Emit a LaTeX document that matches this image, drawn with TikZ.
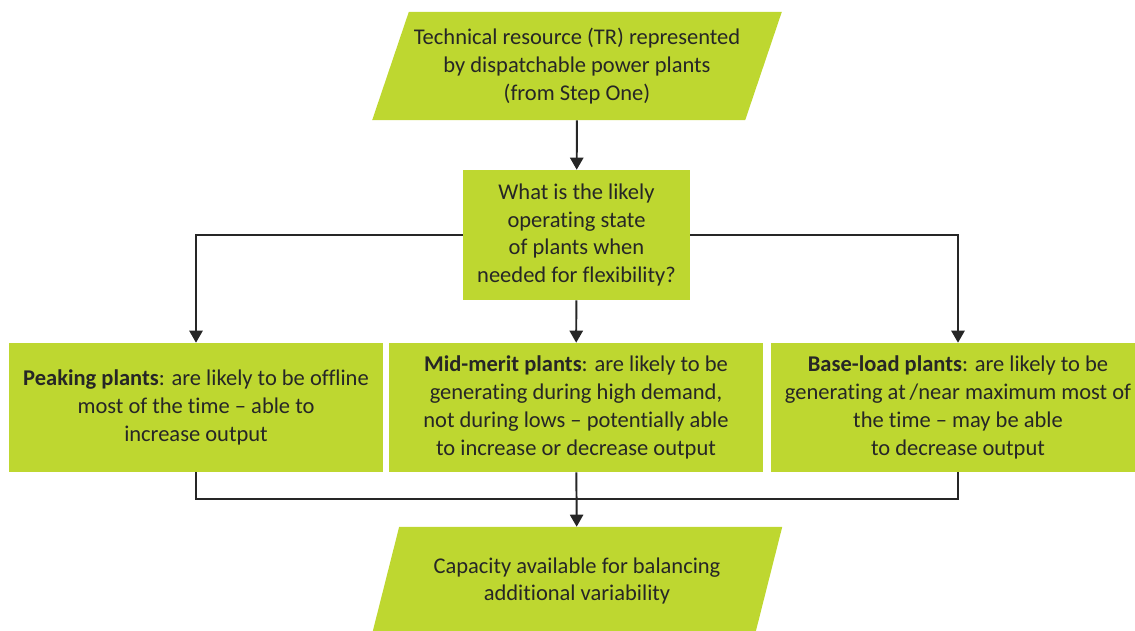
\documentclass[tikz,border=0pt]{standalone}
\usepackage{fontspec}
\setmainfont[Ligatures = NoCommon]{Carlito}
\usetikzlibrary{shapes.geometric, arrows.meta}

\definecolor{leaf}{RGB}{190,215,48}
\definecolor{ink}{RGB}{38,38,38}

\tikzset{
  io/.style = {trapezium, trapezium left angle = 65, trapezium right angle = 115,
    trapezium stretches = true, fill = leaf, inner sep = 0pt,
    minimum width = 10.275cm, minimum height = 2.7cm, align = center},
  ask/.style = {rectangle, fill = leaf, inner sep = 0pt,
    minimum width = 5.675cm, minimum height = 3.25cm, align = center},
  plant/.style = {rectangle, fill = leaf, inner sep = 0pt,
    minimum width = 9.35cm, minimum height = 3.225cm, align = center},
  link/.style = {draw = ink, line width = 1.4pt},
  arr/.style = {link, -{Triangle[width = 0.33cm, length = 0.3cm]}}
}

\begin{document}
\begin{tikzpicture}[x = 0.025cm, y = -0.025cm,
    font = \fontsize{16}{19.9}\selectfont, text = ink]
    \useasboundingbox (0,0) rectangle (1135,630);

    % input
    \node [io] (tr) at (577,66)
      {Technical resource (TR) represented\\ by dispatchable power plants\\ (from Step One)};

    % question
    \node [ask] (state) at (576.5,235)
      {What is the likely\\ operating state\\ of plants when\\ needed for flexibility?};

    % plant types
    \node [plant] (peak) at (196,407.5)
      {\textbf{Peaking plants}: are likely to be offline\\ most of the time -- able to\\ increase output};
    \node [plant] (mid) at (576,407.5)
      {\textbf{Mid-merit plants}: are likely to be\\ generating during high demand,\\ not during lows -- potentially able\\ to increase or decrease output};
    \node [plant] (base) at (958,407.5)
      {\textbf{Base-load plants}: are likely to be\\ generating at\,/near maximum most of\\ the time -- may be able\\ to decrease output};

    % output
    \node [io] (cap) at (577,581)
      {Capacity available for balancing\\ additional variability};

    \coordinate (join) at (576,499);

    % connections
    \draw [arr] (tr) -- (state);
    \draw [arr] (state.west) -| (peak.north);
    \draw [arr] (state) -- (mid);
    \draw [arr] (state.east) -| (base.north);
    \draw [link] (peak.south) |- (join);
    \draw [link] (base.south) |- (join);
    \draw [arr] (mid) -- (cap);
\end{tikzpicture}
\end{document}
